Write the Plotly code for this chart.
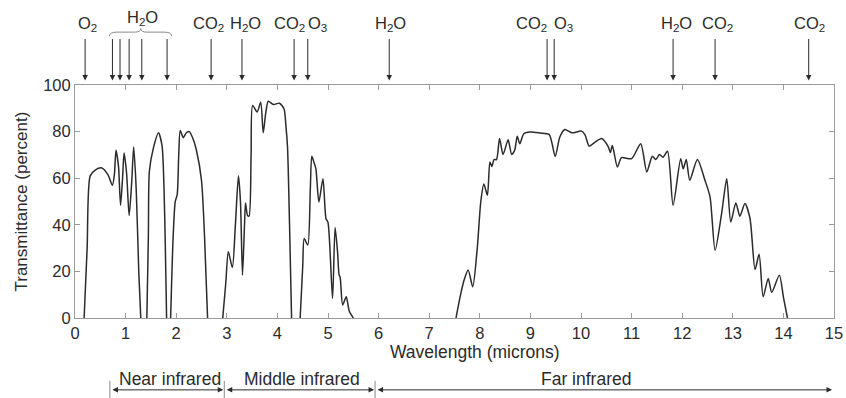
import plotly.graph_objects as go

# ---- data ----
wavelength = [
    0.18, 0.24, 0.30, 0.40, 0.53, 0.65, 0.74, 0.78, 0.81, 0.86, 0.90, 0.94, 0.97, 1.02, 1.07, 1.12, 1.16, 1.21, 1.26, 1.30, None,
    1.42, 1.45, 1.47, 1.55, 1.65, 1.72, 1.76, 1.79, 1.81, None,
    1.89, 1.94, 1.98, 2.02, 2.05, 2.08, 2.14, 2.20, 2.26, 2.33, 2.40, 2.50, 2.56, 2.62, None,
    2.92, 2.98, 3.03, 3.11, 3.17, 3.23, 3.27, 3.31, 3.35, 3.37, 3.41, 3.44, 3.48, 3.51, 3.60, 3.67, 3.72, 3.77, 3.82, 3.92, 4.04, 4.13, 4.17, 4.20, 4.24, 4.28, None,
    4.45, 4.50, 4.53, 4.60, 4.65, 4.68, 4.72, 4.76, 4.82, 4.90, 4.96, 5.00, 5.09, 5.14, 5.19, 5.22, 5.24, 5.29, 5.36, 5.42, 5.50, None,
    7.53, 7.62, 7.69, 7.77, 7.86, 7.95, 8.02, 8.08, 8.15, 8.20, 8.24, 8.28, 8.33, 8.39, 8.46, 8.56, 8.63, 8.69, 8.74, 8.79, 8.87, 8.99, 9.19, 9.37,
    9.49, 9.58, 9.68, 9.82, 10.01, 10.08, 10.16, 10.25, 10.41, 10.54, 10.58, 10.62, 10.72, 10.80, 11.00, 11.18, 11.30, 11.41, 11.48, 11.55, 11.62,
    11.71, 11.82, 11.97, 12.02, 12.08, 12.15, 12.30, 12.45, 12.55, 12.65, 12.78, 12.88, 12.96, 13.06, 13.14, 13.24, 13.34, 13.44, 13.52, 13.60,
    13.70, 13.77, 13.92, 14.00, 14.08,
]
transmittance = [
    0, 30, 61, 63.5, 64.4, 61.5, 57, 62, 72, 65, 48.4, 60, 70.8, 62, 44, 58, 73.4, 55, 20, 0, None,
    0, 35, 63, 73, 79.5, 74, 55, 25, 0, None,
    0, 35, 49.8, 53, 70, 80.5, 77.4, 79.5, 80, 77, 72, 59, 35, 0, None,
    0, 15, 28.4, 21.7, 40, 61, 50, 18.4, 40, 49.4, 44, 43.7, 70, 91.2, 88.4, 92.6, 79.5, 88, 93, 91.6, 92.2, 89.8, 82, 73.4, 40, 0, None,
    0, 22, 34.1, 31.3, 55, 69.4, 67, 64.1, 49.8, 59.8, 42.7, 41, 8.4, 38.8, 28, 18.4, 17.5, 5.6, 9.1, 3, 0, None,
    0, 10, 16.3, 20.6, 13.4, 30, 50, 57.5, 52.7, 67, 65, 68, 68, 77, 70.2, 76.5, 70.2, 72, 78, 74.8, 79.1, 79.8, 79.4, 78.8,
    69.4, 77.6, 80.9, 79.5, 80.2, 78.6, 73.8, 75, 77, 73.4, 71, 74, 64.8, 68.8, 68.4, 74.8, 62.7, 69.4, 68, 70.2, 69,
    71.6, 48.4, 68.4, 64, 68, 59.1, 68, 59.1, 52, 29.1, 45, 59.8, 41.2, 49.4, 43.7, 49.1, 42.7, 20.8, 27.4, 9.1,
    17, 11, 18.4, 9, 0,
]

x_ticks = list(range(0, 16))
y_ticks = [0, 20, 40, 60, 80, 100]

absorber_labels = ["O<sub>2</sub>", "CO<sub>2</sub>", "H<sub>2</sub>O", "CO<sub>2</sub>", "O<sub>3</sub>",
                   "H<sub>2</sub>O", "CO<sub>2</sub>", "O<sub>3</sub>", "H<sub>2</sub>O", "CO<sub>2</sub>", "CO<sub>2</sub>"]
absorber_label_x = [0.25, 2.63, 3.36, 4.23, 4.80, 6.24, 9.02, 9.66, 11.88, 12.70, 14.52]
absorber_arrow_x = [0.20, 2.69, 3.30, 4.33, 4.60, 6.21, 9.33, 9.47, 11.82, 12.65, 14.50]
h2o_group_label = "H<sub>2</sub>O"
h2o_group_label_x = 1.33
h2o_group_arrow_x = [0.74, 0.89, 1.07, 1.32, 1.82]

regions = ["Near infrared", "Middle infrared", "Far infrared"]
region_start = [0.69, 2.95, 5.93]
region_end = [2.95, 5.93, 14.98]
region_label_x = [1.88, 4.48, 10.1]

FONT = "Liberation Sans, Arial, sans-serif"
DARK = "#2b2b2b"
AX = "#9a9a9a"

fig = go.Figure()
fig.add_trace(go.Scatter(
    x=wavelength, y=transmittance, mode="lines",
    line=dict(color=DARK, width=1.5, shape="spline", smoothing=0.7),
    connectgaps=False, hoverinfo="skip", showlegend=False, cliponaxis=True,
))

annotations = []
shapes = []

# plot area in page px: left 75, right 834, top 84.5, bottom 318
def py_to_paper(py):
    return (318 - py) / 233.5

def txt(x, py, text, size, xref="x"):
    return dict(x=x, y=py_to_paper(py), xref=xref, yref="paper", text=text,
                xanchor="center", yanchor="middle", showarrow=False,
                font=dict(size=size, color=DARK, family=FONT))

tip_y = py_to_paper(80)
for xv in absorber_arrow_x + h2o_group_arrow_x:
    annotations.append(dict(x=xv, y=tip_y, xref="x", yref="paper", ax=0, ay=-43,
                            text="", showarrow=True, arrowhead=2, arrowsize=1.1,
                            arrowwidth=1, arrowcolor=DARK))
for lab, xv in zip(absorber_labels, absorber_label_x):
    annotations.append(txt(xv, 23, lab, 16.5))
annotations.append(txt(h2o_group_label_x, 17, h2o_group_label, 16.5))

bx0, bx1, bm = 0.68, 1.91, 1.30
by_top, by_bot = py_to_paper(31.5), py_to_paper(35.5)
shapes.append(dict(type="path", xref="x", yref="paper",
                   path=(f"M {bx0},{by_bot} Q {bx0},{by_top} {bx0+0.15},{by_top} "
                         f"L {bm-0.12},{by_top} Q {bm},{by_top} {bm},{py_to_paper(28)} "
                         f"Q {bm},{by_top} {bm+0.12},{by_top} "
                         f"L {bx1-0.15},{by_top} Q {bx1},{by_top} {bx1},{by_bot}"),
                   line=dict(color="#888888", width=1)))

arr_y = py_to_paper(390)
for name, s, e, lx in zip(regions, region_start, region_end, region_label_x):
    annotations.append(dict(x=e, y=arr_y, ax=s, ay=0, xref="x", yref="paper",
                            axref="x", ayref="pixel", text="", showarrow=True,
                            arrowhead=2, arrowside="end+start", arrowsize=1.1,
                            arrowwidth=1, arrowcolor=DARK, standoff=1, startstandoff=1))
    annotations.append(txt(lx, 379, name, 17.5))
for xv in [0.69, 2.95, 5.93]:
    shapes.append(dict(type="line", xref="x", yref="paper", x0=xv, x1=xv,
                       y0=py_to_paper(381), y1=py_to_paper(399),
                       line=dict(color="#888888", width=1)))

# axis titles as text
annotations.append(txt(7.91, 352, "Wavelength (microns)", 17.5))
annotations.append(dict(x=-54 / 759, y=0.5, xref="paper", yref="paper",
                        text="Transmittance (percent)", textangle=-90,
                        xanchor="center", yanchor="middle", showarrow=False,
                        font=dict(size=17, color=DARK, family=FONT)))

fig.update_layout(
    width=846, height=398,
    margin=dict(l=75, r=12, t=84.5, b=80, autoexpand=False),
    paper_bgcolor="white", plot_bgcolor="white",
    font=dict(family=FONT, size=16.5, color=DARK),
    annotations=annotations, shapes=shapes,
    xaxis=dict(range=[0, 15], tickvals=x_ticks, ticktext=[str(v) for v in x_ticks],
               ticks="inside", ticklen=5, tickcolor=AX, showline=True, linecolor=AX,
               linewidth=1, mirror="ticks", showgrid=False, zeroline=False,
               automargin=False, tickfont=dict(size=16.5)),
    yaxis=dict(range=[0, 100], tickvals=y_ticks, ticktext=[str(v) for v in y_ticks],
               ticks="inside", ticklen=5, tickcolor=AX, showline=True, linecolor=AX,
               linewidth=1, mirror="ticks", showgrid=False, zeroline=False,
               automargin=False, tickfont=dict(size=16.5)),
)

fig.write_html("out.html")
